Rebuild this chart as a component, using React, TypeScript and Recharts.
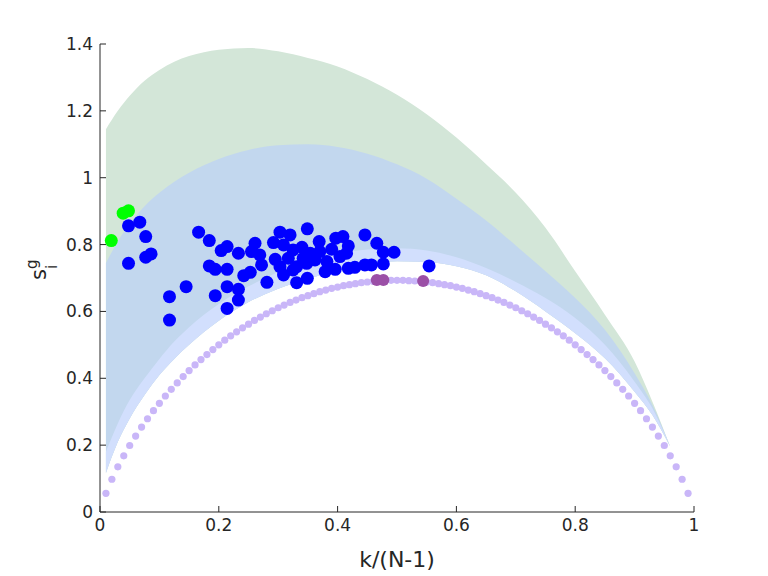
import { ComposedChart, Area, Scatter, XAxis, YAxis } from 'recharts';

// shaded bands, sampled along k/(N-1)
const bandX = [0.01, 0.03, 0.05, 0.075, 0.1, 0.125, 0.15, 0.2, 0.25, 0.3, 0.35, 0.4, 0.45, 0.5, 0.55, 0.6, 0.65, 0.7, 0.75, 0.8, 0.85, 0.9, 0.93, 0.96];
const greenTop = [1.145, 1.2, 1.245, 1.29, 1.322, 1.347, 1.364, 1.383, 1.388, 1.378, 1.358, 1.333, 1.295, 1.248, 1.19, 1.12, 1.04, 0.955, 0.85, 0.72, 0.59, 0.45, 0.33, 0.195];
const blueTop = [0.745, 0.81, 0.862, 0.915, 0.955, 0.988, 1.015, 1.056, 1.083, 1.097, 1.1, 1.092, 1.072, 1.04, 0.997, 0.937, 0.872, 0.797, 0.72, 0.64, 0.545, 0.415, 0.32, 0.195];
const lightTop = [0.18, 0.265, 0.335, 0.4, 0.458, 0.51, 0.553, 0.622, 0.675, 0.718, 0.75, 0.772, 0.785, 0.789, 0.782, 0.762, 0.73, 0.688, 0.64, 0.58, 0.5, 0.39, 0.31, 0.195];
const lightBottom = [0.117, 0.21, 0.28, 0.35, 0.41, 0.458, 0.5, 0.572, 0.628, 0.668, 0.698, 0.722, 0.74, 0.75, 0.748, 0.735, 0.708, 0.66, 0.6, 0.535, 0.46, 0.36, 0.29, 0.195];

// light purple reference dots
const refX = [0.01, 0.02, 0.03, 0.04, 0.05, 0.06, 0.07, 0.08, 0.09, 0.1, 0.11, 0.12, 0.13, 0.14, 0.15, 0.16, 0.17, 0.18, 0.19, 0.2,
    0.21, 0.22, 0.23, 0.24, 0.25, 0.26, 0.27, 0.28, 0.29, 0.3, 0.31, 0.32, 0.33, 0.34, 0.35, 0.36, 0.37, 0.38, 0.39, 0.4,
    0.41, 0.42, 0.43, 0.44, 0.45, 0.46, 0.47, 0.48, 0.49, 0.5, 0.51, 0.52, 0.53, 0.54, 0.55, 0.56, 0.57, 0.58, 0.59, 0.6,
    0.61, 0.62, 0.63, 0.64, 0.65, 0.66, 0.67, 0.68, 0.69, 0.7, 0.71, 0.72, 0.73, 0.74, 0.75, 0.76, 0.77, 0.78, 0.79, 0.8,
    0.81, 0.82, 0.83, 0.84, 0.85, 0.86, 0.87, 0.88, 0.89, 0.9, 0.91, 0.92, 0.93, 0.94, 0.95, 0.96, 0.97, 0.98, 0.99];
const refY = [0.056, 0.098, 0.135, 0.168, 0.199, 0.227, 0.254, 0.279, 0.303, 0.325, 0.347, 0.367, 0.386, 0.405, 0.423, 0.44, 0.456, 0.471, 0.486, 0.5,
    0.514, 0.527, 0.539, 0.551, 0.562, 0.573, 0.583, 0.593, 0.602, 0.611, 0.619, 0.627, 0.634, 0.641, 0.647, 0.653, 0.659, 0.664, 0.669, 0.673,
    0.677, 0.68, 0.683, 0.686, 0.688, 0.69, 0.691, 0.692, 0.693, 0.693, 0.693, 0.692, 0.691, 0.69, 0.688, 0.686, 0.683, 0.68, 0.677, 0.673,
    0.669, 0.664, 0.659, 0.653, 0.647, 0.641, 0.634, 0.627, 0.619, 0.611, 0.602, 0.593, 0.583, 0.573, 0.562, 0.551, 0.539, 0.527, 0.514, 0.5,
    0.486, 0.471, 0.456, 0.44, 0.423, 0.405, 0.386, 0.367, 0.347, 0.325, 0.303, 0.279, 0.254, 0.227, 0.199, 0.168, 0.135, 0.098, 0.056];

// nodes
const blueX = [0.048, 0.067, 0.077, 0.048, 0.077, 0.086, 0.117, 0.117, 0.145, 0.166, 0.184, 0.204, 0.214, 0.233, 0.184, 0.194, 0.214, 0.194, 0.214, 0.233,
    0.233, 0.214, 0.242, 0.253, 0.255, 0.261, 0.269, 0.272, 0.281,
    0.349, 0.303, 0.32, 0.292, 0.397, 0.409, 0.446, 0.466, 0.369, 0.418, 0.309, 0.34, 0.477, 0.495, 0.325, 0.354, 0.37, 0.39, 0.415, 0.404,
    0.295, 0.317, 0.342, 0.362, 0.382, 0.303, 0.331, 0.309, 0.325, 0.379, 0.396, 0.418, 0.429, 0.446, 0.457, 0.477, 0.331, 0.349, 0.554, 0.348];
const blueY = [0.856, 0.867, 0.824, 0.744, 0.762, 0.772, 0.644, 0.574, 0.674, 0.837, 0.812, 0.782, 0.794, 0.774, 0.736, 0.726, 0.726, 0.647, 0.674, 0.666,
    0.634, 0.609, 0.707, 0.717, 0.779, 0.804, 0.769, 0.739, 0.687,
    0.847, 0.837, 0.829, 0.806, 0.819, 0.824, 0.829, 0.804, 0.809, 0.796, 0.799, 0.792, 0.777, 0.777, 0.784, 0.774, 0.779, 0.786, 0.774, 0.764,
    0.756, 0.759, 0.759, 0.754, 0.749, 0.734, 0.734, 0.709, 0.724, 0.719, 0.726, 0.729, 0.732, 0.739, 0.739, 0.742, 0.686, 0.699, 0.736, 0.744];
const greenX = [0.019, 0.039, 0.048];
const greenY = [0.812, 0.894, 0.901];
const hubX = [0.466, 0.477, 0.544];
const hubY = [0.694, 0.694, 0.691];

const xTicks = [0, 0.2, 0.4, 0.6, 0.8, 1];
const yTicks = [0, 0.2, 0.4, 0.6, 0.8, 1, 1.2, 1.4];

const INK = '#262626';
const FONT = "'DejaVu Sans', sans-serif";

const bandRows = bandX.map((x, i) => ({
    x,
    green: [lightBottom[i], greenTop[i]],
    blue: [lightBottom[i], blueTop[i]],
    light: [lightBottom[i], lightTop[i]],
}));
const toPoints = (xs: number[], ys: number[]) => xs.map((x, i) => ({ x, y: ys[i] }));
const refPoints = toPoints(refX, refY);
const bluePoints = toPoints(blueX, blueY);
const greenPoints = toPoints(greenX, greenY);
const hubPoints = toPoints(hubX, hubY);

const dot = (r: number, fill: string) => (p: any) => <circle cx={p.cx} cy={p.cy} r={r} fill={fill} />;

// MATLAB style ticks: label outside, tick mark pointing into the axes
const XTick = (p: any) => (
    <g>
        <line x1={p.x} x2={p.x} y1={p.y - 7} y2={p.y - 13} stroke={INK} />
        <text x={p.x} y={p.y} dy="0.71em" textAnchor="middle" fill={INK} fontSize={17} fontFamily={FONT}>
            {String(p.payload.value)}
        </text>
    </g>
);
const YTick = (p: any) => (
    <g>
        <line x1={p.x + 7} x2={p.x + 13} y1={p.y} y2={p.y} stroke={INK} />
        <text x={p.x} y={p.y} dy="0.355em" textAnchor="end" fill={INK} fontSize={17} fontFamily={FONT}>
            {String(p.payload.value)}
        </text>
    </g>
);

export default function App() {
    return (
        <div style={{ position: 'absolute', left: 0, top: 0, width: 768, height: 576, background: '#fff' }}>
            <ComposedChart
                width={768}
                height={576}
                data={bandRows}
                margin={{ top: 44, right: 74, bottom: 0, left: 0 }}
                style={{ fontFamily: FONT }}
            >
                <XAxis
                    dataKey="x"
                    type="number"
                    domain={[0, 1]}
                    ticks={xTicks}
                    height={64}
                    tickSize={0}
                    tickMargin={7}
                    tickLine={false}
                    tick={<XTick />}
                    axisLine={{ stroke: INK }}
                    allowDataOverflow
                    label={{
                        content: () => (
                            <text x={397} y={567} textAnchor="middle" fill={INK} fontSize={22} fontFamily={FONT}>
                                k/(N-1)
                            </text>
                        ),
                    }}
                />
                <YAxis
                    type="number"
                    domain={[0, 1.4]}
                    ticks={yTicks}
                    width={100}
                    tickSize={0}
                    tickMargin={7}
                    tickLine={false}
                    tick={<YTick />}
                    axisLine={{ stroke: INK }}
                    allowDataOverflow
                    label={{
                        content: () => (
                            <text transform="translate(46,280) rotate(-90)" fill={INK} fontFamily={FONT}>
                                <tspan fontSize={21}>s</tspan>
                                <tspan fontSize={15} dy={11}>i</tspan>
                                <tspan fontSize={15} dx={-4} dy={-20}>g</tspan>
                            </text>
                        ),
                    }}
                />
                <Area type="monotone" dataKey="green" stroke="none" fill="#d3e6d8" fillOpacity={1} isAnimationActive={false} />
                <Area type="monotone" dataKey="blue" stroke="none" fill="#c2d7ee" fillOpacity={1} isAnimationActive={false} />
                <Area type="monotone" dataKey="light" stroke="none" fill="#d2dffd" fillOpacity={1} isAnimationActive={false} />
                <Scatter data={refPoints} dataKey="y" shape={dot(3.6, '#c9b6f8')} isAnimationActive={false} />
                <Scatter data={bluePoints} dataKey="y" shape={dot(6.5, '#0000ff')} isAnimationActive={false} />
                <Scatter data={greenPoints} dataKey="y" shape={dot(6.5, '#00ff00')} isAnimationActive={false} />
                <Scatter data={hubPoints} dataKey="y" shape={dot(6, '#9b4fa6')} isAnimationActive={false} />
            </ComposedChart>
        </div>
    );
}
